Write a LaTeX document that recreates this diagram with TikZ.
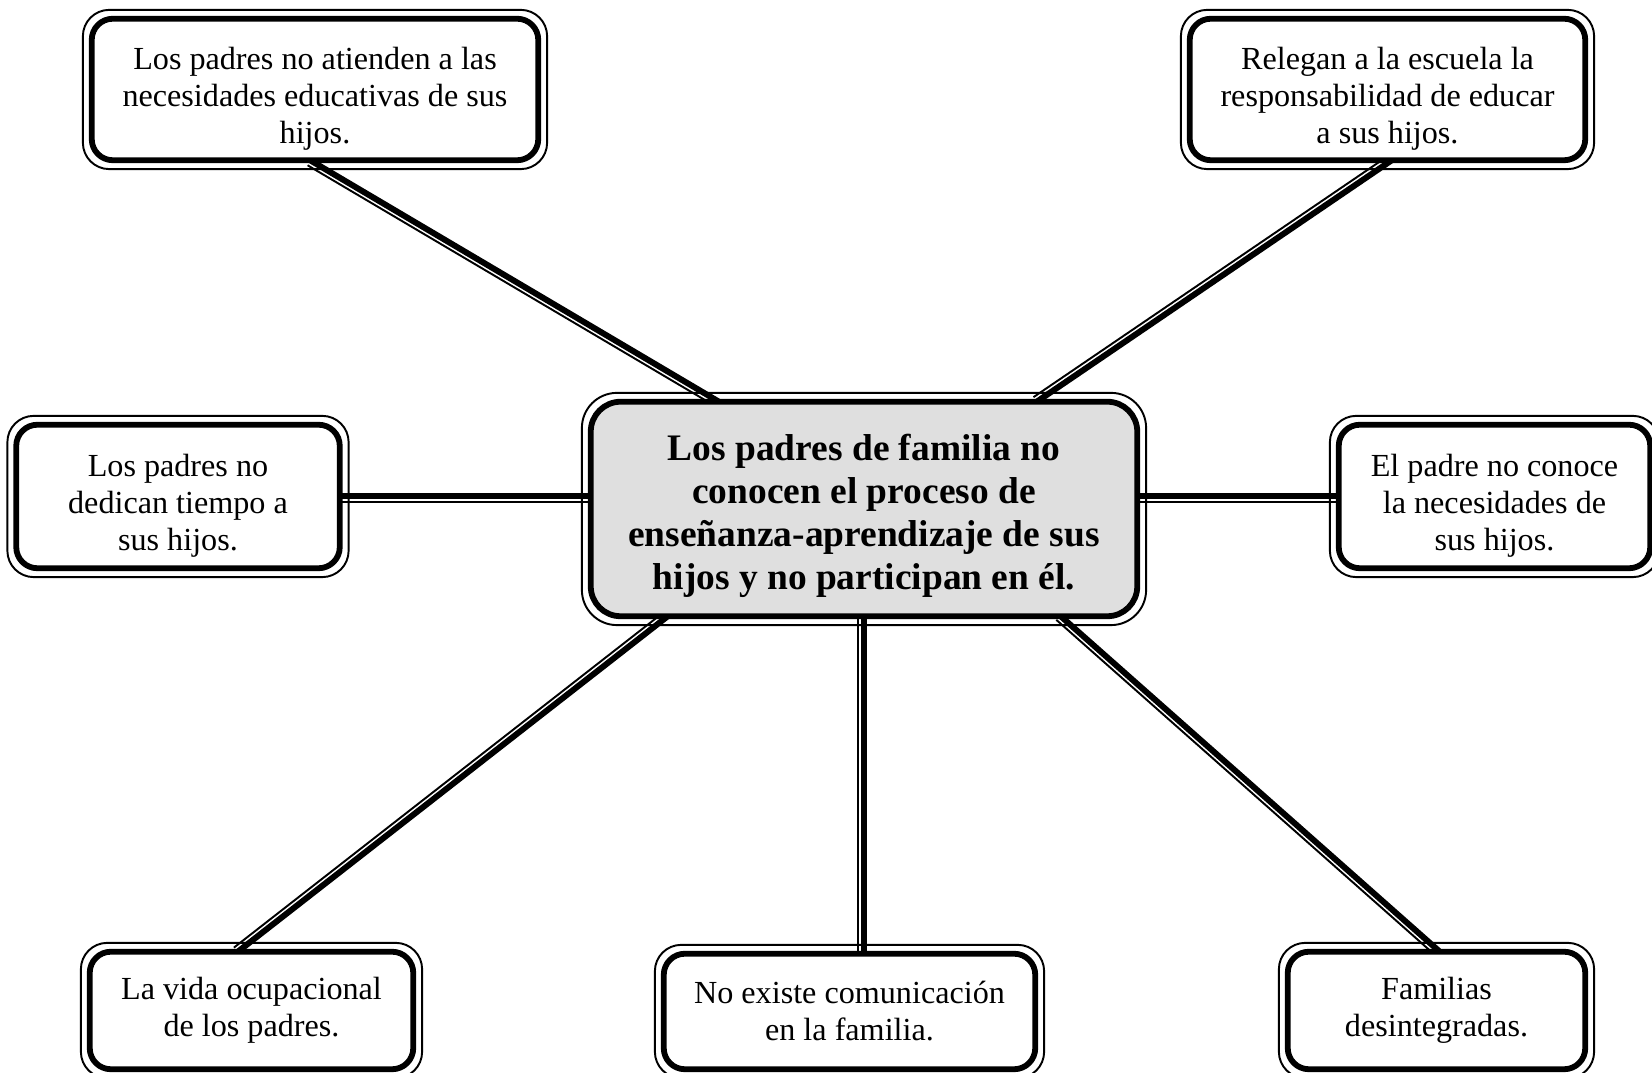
\documentclass[tikz,border=0pt]{standalone}
\usepackage{fontspec}
\setmainfont{Liberation Serif}
\usetikzlibrary{calc,backgrounds}
\newcommand{\bajar}{\rule{0pt}{23pt}}

\begin{document}
\begin{tikzpicture}[line join=round,
	caja/.style={draw, line width=3.3pt, rounded corners=12pt, fill=white, align=center, inner sep=0pt, font=\fontsize{18.3}{21}\selectfont},
	central/.style={caja, rounded corners=17pt, fill=gray!25, font=\bfseries\fontsize{21.3}{24.5}\selectfont},
	marco/.style={line width=1.1pt, rounded corners=15pt},
	grueso/.style={line width=3.4pt, shorten <=-3pt, shorten >=-3pt},
	fino/.style={line width=1.1pt, shorten <=-3pt, shorten >=-3pt}]
\useasboundingbox (0,0) rectangle (33.04,21.46);
\path
(17.28,11.28) node[central, minimum width=10.93cm, minimum height=4.29cm] (c) {\bajar Los padres de familia no\\ conocen el proceso de\\ enseñanza-aprendizaje de sus\\ hijos y no participan en él.}
(6.30,19.67) node[caja, minimum width=8.93cm, minimum height=2.83cm] (tl) {\bajar Los padres no atienden a las\\ necesidades educativas de sus\\ hijos.}
(27.75,19.67) node[caja, minimum width=7.91cm, minimum height=2.83cm] (tr) {\bajar Relegan a la escuela la\\ responsabilidad de educar\\ a sus hijos.}
(3.56,11.53) node[caja, minimum width=6.47cm, minimum height=2.87cm] (lm) {\bajar Los padres no\\ dedican tiempo a\\ sus hijos.}
(29.89,11.53) node[caja, minimum width=6.23cm, minimum height=2.87cm] (rm) {\bajar El padre no conoce\\ la necesidades de\\ sus hijos.}
(5.03,1.25) node[caja, minimum width=6.47cm, minimum height=2.35cm] (bl) {La vida ocupacional\\ de los padres.}
(16.99,1.23) node[caja, minimum width=7.43cm, minimum height=2.31cm] (bm) {No existe comunicación\\ en la familia.}
(28.73,1.25) node[caja, minimum width=5.95cm, minimum height=2.35cm] (br) {Familias\\ desintegradas.}
;
% puntos de union
\coordinate (tla) at (tl.south);
\coordinate (tlb) at ([xshift=-3cm]c.north);
\coordinate (tra) at (tr.south);
\coordinate (trb) at ([xshift=3.54cm]c.north);
\coordinate (lma) at (lm.east);
\coordinate (lmb) at (lm.east -| c.west);
\coordinate (rma) at (rm.west -| c.east);
\coordinate (rmb) at (rm.west);
\coordinate (bla) at ([xshift=-4cm]c.south);
\coordinate (blb) at ([xshift=-0.2cm]bl.north);
\coordinate (bma) at (c.south);
\coordinate (bmb) at (c.south |- bm.north);
\coordinate (bra) at ([xshift=4cm]c.south);
\coordinate (brb) at (br.north);
\begin{scope}[on background layer]
	\draw[marco, rounded corners=20pt] ([shift={(-3.4pt,-3.4pt)}]c.south west) rectangle ([shift={(3.4pt,3.4pt)}]c.north east);
	\foreach \n in {tl,tr,lm,rm,bl,bm,br}{
		\draw[marco] ([shift={(-3.4pt,-3.4pt)}]\n.south west) rectangle ([shift={(3.4pt,3.4pt)}]\n.north east);
	}
	\foreach \a/\b in {tla/tlb,tra/trb,lma/lmb,rma/rmb,bla/blb,bma/bmb,bra/brb}{
		\draw[grueso] (\a)--(\b);
		\draw[fino] ($(\a)!3.2pt!-90:(\b)$)--($(\b)!3.2pt!90:(\a)$);
	}
\end{scope}
\end{tikzpicture}
\end{document}
